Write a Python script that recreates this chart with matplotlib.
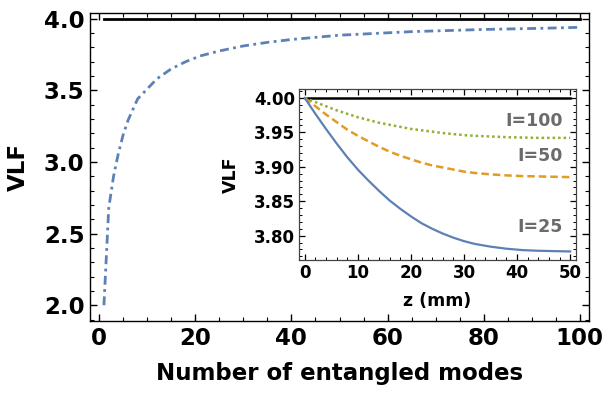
import numpy as np
import matplotlib
matplotlib.use("Agg")
import matplotlib.pyplot as plt
from matplotlib.ticker import MultipleLocator, FormatStrFormatter

plt.rcParams['font.family'] = ['DejaVu Sans']
plt.rcParams['font.weight'] = 'bold'

# main plot data
modes = [1, 2, 3, 4, 5, 6, 8, 10, 12, 15, 18, 21, 25, 30, 35, 40, 50, 65, 80, 93, 100]
vlf_modes = [2.00, 2.68, 2.90, 3.06, 3.19, 3.29, 3.44, 3.51, 3.58, 3.65, 3.70, 3.74,
             3.775, 3.81, 3.835, 3.855, 3.885, 3.91, 3.925, 3.934, 3.94]
vlf_max = 4.0

# inset data
z_mm = [0, 2, 4, 6, 8, 10, 12, 14, 16, 18, 20, 22, 24, 26, 28, 30, 32, 35, 38, 41, 44, 47, 50]
vlf_I25 = [4.000, 3.977, 3.955, 3.934, 3.914, 3.896, 3.880, 3.865, 3.851, 3.839, 3.828,
           3.818, 3.810, 3.803, 3.797, 3.792, 3.788, 3.784, 3.781, 3.779, 3.778, 3.7775, 3.777]
vlf_I50 = [4.000, 3.988, 3.976, 3.965, 3.954, 3.945, 3.937, 3.929, 3.922, 3.916, 3.911,
           3.906, 3.902, 3.899, 3.896, 3.893, 3.891, 3.889, 3.8875, 3.8865, 3.886, 3.8855, 3.885]
vlf_I100 = [4.000, 3.994, 3.988, 3.982, 3.977, 3.972, 3.968, 3.964, 3.961, 3.958, 3.955,
            3.953, 3.951, 3.949, 3.9475, 3.946, 3.945, 3.944, 3.943, 3.9425, 3.942, 3.942, 3.942]
labels = ["I=100", "I=50", "I=25"]
label_y = [3.966, 3.915, 3.813]

blue = '#5E81B5'
orange = '#E19C24'
green = '#8FB032'

fig = plt.figure(figsize=(6.08, 3.96), dpi=100)
ax = fig.add_axes([90/608, 75/396, 499/608, 308/396])

ax.plot([modes[0], modes[-1]], [vlf_max, vlf_max], color='black', lw=2.0)
ax.plot(modes, vlf_modes, color=blue, lw=2.0, linestyle=(0, (3.2, 1.6, 1, 1.6)))

ax.set_xlim(-1.9, 101.9)
ax.set_ylim(1.89, 4.04)
ax.xaxis.set_major_locator(MultipleLocator(20))
ax.xaxis.set_minor_locator(MultipleLocator(5))
ax.yaxis.set_major_locator(MultipleLocator(0.5))
ax.yaxis.set_minor_locator(MultipleLocator(0.1))
ax.yaxis.set_major_formatter(FormatStrFormatter('%.1f'))
ax.tick_params(which='both', direction='in', top=True, right=True)
ax.tick_params(which='major', length=5, width=1, labelsize=16.5, pad=4)
ax.tick_params(which='minor', length=3, width=0.8)
for s in ax.spines.values():
    s.set_linewidth(1.0)
ax.set_xlabel("Number of entangled modes", fontsize=16.5, fontweight='bold', labelpad=9)
ax.set_ylabel("VLF", fontsize=16.5, fontweight='bold', labelpad=10)

# inset
axi = fig.add_axes([299/608, 136/396, 277/608, 171/396])
axi.set_facecolor('white')
axi.plot([z_mm[0], z_mm[-1]], [vlf_max, vlf_max], color='black', lw=1.8)
axi.plot(z_mm, vlf_I100, color=green, lw=1.8, linestyle=(0, (1, 1.2)))
axi.plot(z_mm, vlf_I50, color=orange, lw=1.8, linestyle=(0, (3, 1.6)))
axi.plot(z_mm, vlf_I25, color=blue, lw=1.6)
for t, yv in zip(labels, label_y):
    axi.text(48.6, yv, t, color='#6b6b6b', fontsize=12.5, fontweight='bold',
             ha='right', va='center')

axi.set_xlim(-1.08, 51.1)
axi.set_ylim(3.7646, 4.013)
axi.xaxis.set_major_locator(MultipleLocator(10))
axi.xaxis.set_minor_locator(MultipleLocator(2))
axi.yaxis.set_major_locator(MultipleLocator(0.05))
axi.yaxis.set_minor_locator(MultipleLocator(0.01))
axi.yaxis.set_major_formatter(FormatStrFormatter('%.2f'))
axi.tick_params(which='both', direction='in', top=True, right=True)
axi.tick_params(which='major', length=4, width=0.9, labelsize=12, pad=3)
axi.tick_params(which='minor', length=2, width=0.7)
for s in axi.spines.values():
    s.set_linewidth(0.9)
    s.set_color('#444444')
axi.set_xlabel("z (mm)", fontsize=12.5, fontweight='bold', labelpad=7)
axi.set_ylabel("VLF", fontsize=12.5, fontweight='bold', labelpad=10)

fig.savefig("out.png", dpi=100)
